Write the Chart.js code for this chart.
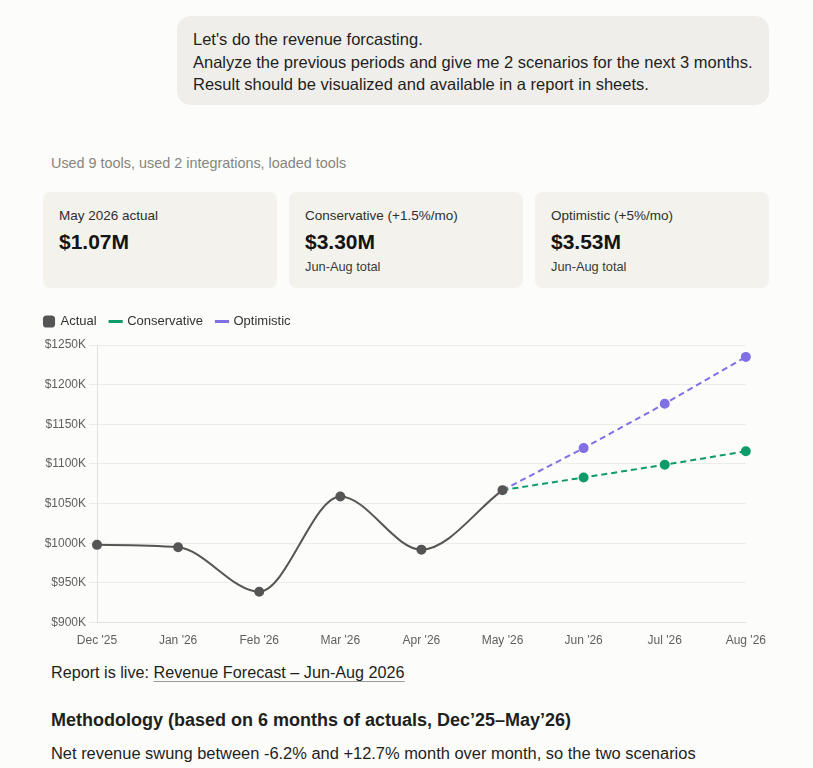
<!DOCTYPE html>
<html>
<head>
<meta charset="utf-8">
<script src="https://cdn.jsdelivr.net/npm/chart.js@4/dist/chart.umd.min.js"></script>
<style>
  html, body { margin: 0; padding: 0; }
  body {
    width: 813px; height: 768px; overflow: hidden;
    background: #fcfcfa; position: relative;
    font-family: "Liberation Sans", Arial, sans-serif; color: #1f1f1d;
  }
  .bubble {
    position: absolute; left: 177px; top: 16px; width: 592px; height: 89px;
    background: #efeeeb; border-radius: 14px; box-sizing: border-box;
    padding: 12px 16px; font-size: 16.5px; line-height: 22.5px; color: #1f1f1d;
  }
  .tools { position: absolute; left: 51px; top: 155px; font-size: 14.4px; color: #85847f; }
  .card {
    position: absolute; top: 192px; width: 234px; height: 96px;
    background: #f3f2ed; border-radius: 8px; box-sizing: border-box; padding: 15px 16px;
  }
  .card .lbl { font-size: 13.5px; color: #2e2e2c; line-height: 18px; }
  .card .val { font-size: 21px; font-weight: bold; color: #141413; line-height: 30px; margin-top: 2px; }
  .card .sub { font-size: 12.8px; color: #3a3a38; line-height: 18px; margin-top: 1px; }
  #wrap { position: absolute; left: 30px; top: 301px; width: 739px; height: 350px; }
  .live { position: absolute; left: 51px; top: 663px; font-size: 16.2px; }
  .live u { text-decoration-color: #999; text-underline-offset: 3px; }
  .meth { position: absolute; left: 51px; top: 710px; font-size: 18px; font-weight: bold; }
  .net { position: absolute; left: 51px; top: 744px; font-size: 16.45px; }
</style>
</head>
<body>
<div class="bubble">Let's do the revenue forcasting.<br>Analyze the previous periods and give me 2 scenarios for the next 3 months.<br>Result should be visualized and available in a report in sheets.</div>
<div class="tools">Used 9 tools, used 2 integrations, loaded tools</div>
<div class="card" style="left:43px"><div class="lbl">May 2026 actual</div><div class="val">$1.07M</div></div>
<div class="card" style="left:289px"><div class="lbl">Conservative (+1.5%/mo)</div><div class="val">$3.30M</div><div class="sub">Jun-Aug total</div></div>
<div class="card" style="left:535px"><div class="lbl">Optimistic (+5%/mo)</div><div class="val">$3.53M</div><div class="sub">Jun-Aug total</div></div>
<div id="wrap"><canvas id="revChart"></canvas></div>
<div class="live">Report is live: <u>Revenue Forecast – Jun-Aug 2026</u></div>
<div class="meth">Methodology (based on 6 months of actuals, Dec’25–May’26)</div>
<div class="net">Net revenue swung between -6.2% and +12.7% month over month, so the two scenarios</div>

<script>
const months = ["Dec '25", "Jan '26", "Feb '26", "Mar '26", "Apr '26", "May '26", "Jun '26", "Jul '26", "Aug '26"];
// revenue in $K
const actual = [998, 995, 939, 1059, 992, 1067, null, null, null];
const conservative = [null, null, null, null, null, 1067, 1083, 1099, 1116];
const optimistic = [null, null, null, null, null, 1067, 1120, 1176, 1235];
const yTicks = [900, 950, 1000, 1050, 1100, 1150, 1200, 1250];

const GRAY = "#555555";
const GREEN = "#0e9b6a";
const PURPLE = "#8070e6";

// a bit more room under the legend
const legendGap = {
  id: "legendGap",
  beforeInit(chart) {
    const fit = chart.legend.fit;
    chart.legend.fit = function () {
      fit.bind(chart.legend)();
      this.height += 7;
    };
  },
};

new Chart(document.getElementById("revChart"), {
  type: "line",
  data: {
    labels: months,
    datasets: [
      {
        label: "Actual",
        data: actual,
        borderColor: GRAY,
        backgroundColor: GRAY,
        borderWidth: 2,
        pointRadius: 4,
        cubicInterpolationMode: "monotone",
      },
      {
        label: "Conservative",
        data: conservative,
        borderColor: GREEN,
        backgroundColor: GREEN,
        borderWidth: 2,
        borderDash: [6, 4],
        pointRadius: [0, 0, 0, 0, 0, 0, 4, 4, 4],
      },
      {
        label: "Optimistic",
        data: optimistic,
        borderColor: PURPLE,
        backgroundColor: PURPLE,
        borderWidth: 2,
        borderDash: [6, 4],
        pointRadius: [0, 0, 0, 0, 0, 0, 4, 4, 4],
      },
    ],
  },
  plugins: [legendGap],
  options: {
    responsive: true,
    maintainAspectRatio: false,
    animation: false,
    plugins: {
      legend: {
        align: "start",
        labels: {
          color: "#333",
          font: { size: 13, family: "Liberation Sans" },
          boxWidth: 10,
          boxHeight: 10,
          padding: 14,
          usePointStyle: true,
          generateLabels: function (chart) {
            return chart.data.datasets.map(function (ds, i) {
              return {
                text: ds.label,
                fillStyle: ds.borderColor,
                strokeStyle: ds.borderColor,
                lineWidth: i === 0 ? 0 : 3,
                pointStyle: i === 0 ? "rectRounded" : "line",
                datasetIndex: i,
                fontColor: "#333",
              };
            });
          },
        },
      },
      tooltip: { enabled: false },
    },
    scales: {
      x: {
        grid: { display: false },
        border: { color: "#e0e0e0" },
        ticks: { color: "#5f5f5f", font: { size: 12, family: "Liberation Sans" }, maxRotation: 0 },
      },
      y: {
        min: 900,
        max: 1250,
        afterBuildTicks: function (axis) {
          axis.ticks = yTicks.map(function (v) { return { value: v }; });
        },
        afterFit: function (axis) {
          axis.width = 67;
        },
        grid: { color: "#ececea" },
        border: { color: "#e0e0e0" },
        ticks: {
          color: "#5f5f5f",
          font: { size: 12, family: "Liberation Sans" },
          callback: function (v) { return "$" + v + "K"; },
        },
      },
    },
  },
});
</script>
</body>
</html>
